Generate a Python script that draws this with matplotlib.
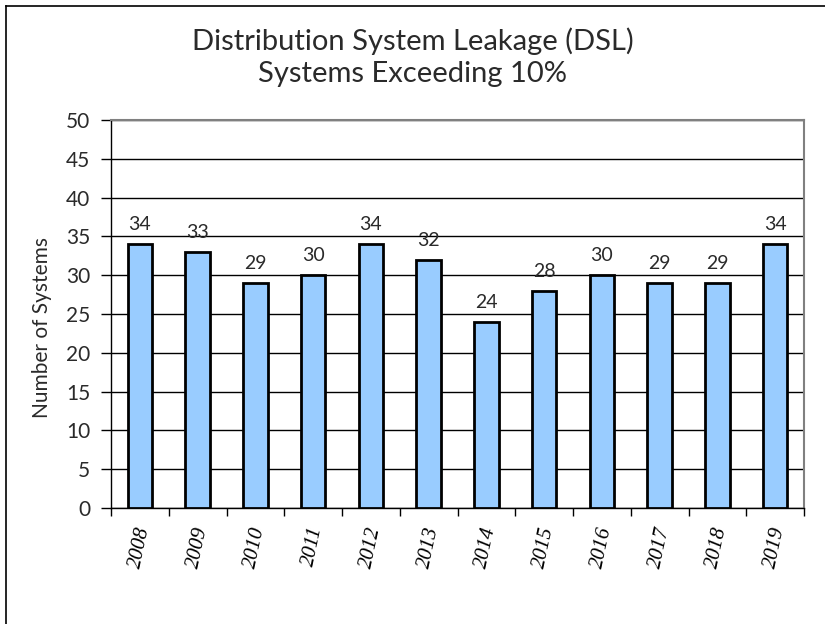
import matplotlib
matplotlib.use("Agg")
import matplotlib.pyplot as plt
from matplotlib.lines import Line2D

years = ["2008", "2009", "2010", "2011", "2012", "2013", "2014", "2015", "2016", "2017", "2018", "2019"]
systems = [34, 33, 29, 30, 34, 32, 24, 28, 30, 29, 29, 34]
yticks = [0, 5, 10, 15, 20, 25, 30, 35, 40, 45, 50]

sans = ["Lato", "DejaVu Sans"]
tc = "#2a2a2a"

fig = plt.figure(figsize=(8.25, 6.24), dpi=100)
ax = fig.add_axes([111/825, 1-508/624, (804-111)/825, (508-120)/624])

x = list(range(len(years)))
ax.bar(x, systems, width=0.42, color="#99CCFF", edgecolor="black", linewidth=2, zorder=3)
for xi, v in zip(x, systems):
    ax.text(xi, v + 1.4, str(v), ha="center", va="bottom", fontsize=14,
            family=sans, color=tc)

ax.set_xlim(-0.5, len(years) - 0.5)
ax.set_ylim(0, 50)
ax.set_yticks(yticks)
ax.set_yticklabels([str(t) for t in yticks], family=sans, fontsize=15, color=tc)
ax.yaxis.grid(True, color="black", linewidth=1, zorder=0)
ax.set_axisbelow(True)

ax.set_xticks([i - 0.5 for i in range(len(years) + 1)])
ax.set_xticklabels([])
ax.set_xticks(x, minor=True)
ax.set_xticklabels(years, minor=True, rotation=78, family="Liberation Serif",
                   style="italic", fontsize=15, ha="center", va="top", color="black")
ax.tick_params(axis="x", which="minor", length=0, pad=12)
ax.tick_params(axis="x", which="major", length=6, width=1, direction="out")
ax.tick_params(axis="y", length=7, width=1, direction="out", pad=8)

for s in ["top", "right"]:
    ax.spines[s].set_color("#808080")
    ax.spines[s].set_linewidth(1.5)
for s in ["left", "bottom"]:
    ax.spines[s].set_color("black")
    ax.spines[s].set_linewidth(1)

ax.set_ylabel("Number of Systems", family=sans, fontsize=15, color=tc)
ax.yaxis.set_label_coords((42 - 111) / 693, (508 - 328) / 388)
ax.yaxis.label.set_va("center")

fig.text(0.5, 1-57/624, "Distribution System Leakage (DSL)\nSystems Exceeding 10%",
         ha="center", va="center", fontsize=21, family=sans, color=tc,
         linespacing=1.3)

fig.add_artist(Line2D([5.5/825, 5.5/825], [0, 1-6/624], transform=fig.transFigure,
                      color="black", linewidth=1.2))
fig.add_artist(Line2D([5.5/825, 1], [1-6/624, 1-6/624], transform=fig.transFigure,
                      color="black", linewidth=1.2))

fig.savefig("out.png", dpi=100)
